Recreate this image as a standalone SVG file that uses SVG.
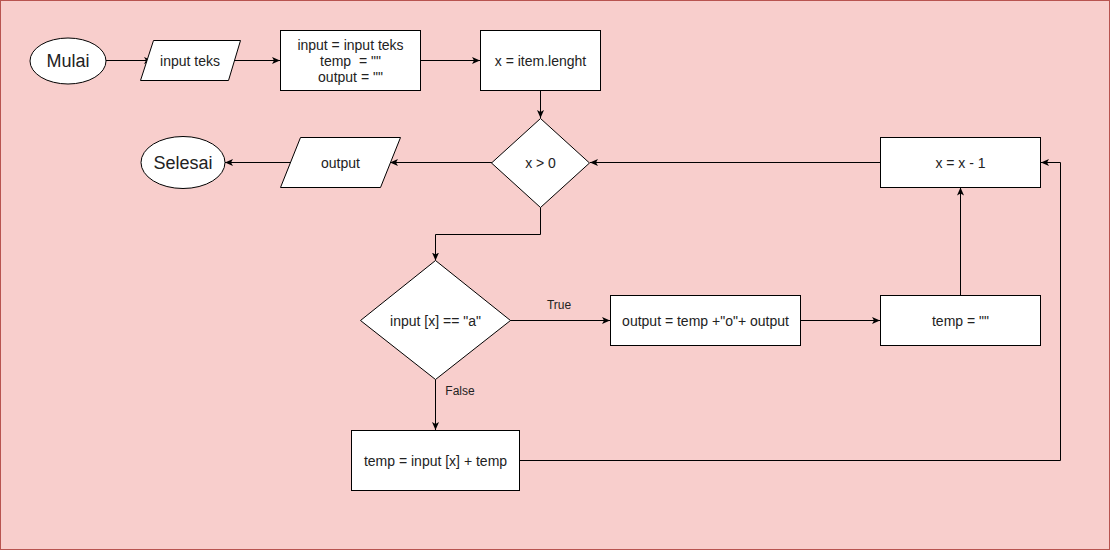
<svg xmlns="http://www.w3.org/2000/svg" width="1111" height="551" viewBox="0 0 1111 551">
<style>
.s{fill:#ffffff;stroke:#000000;stroke-width:1}
.t{font-family:"Liberation Sans",Arial,sans-serif;font-size:14px;fill:#222222;text-anchor:middle;white-space:pre}
.big{font-size:18px}
.lbl{font-family:"Liberation Sans",Arial,sans-serif;font-size:12px;fill:#222222;text-anchor:middle}
.c{fill:none;stroke:#000000;stroke-width:1}
</style>
<defs>
<marker id="a" markerUnits="userSpaceOnUse" markerWidth="10" markerHeight="10" refX="8" refY="4" orient="auto">
<path d="M0,0.5 L8,4 L0,7.5 L2,4 z" fill="#000000"/>
</marker>
</defs>
<rect x="0.5" y="0.5" width="1109" height="549" fill="#f8cecc" stroke="#b85450"/>
<g id="connectors">
<path class="c" d="M106,60.5 H152" marker-end="url(#a)"/>
<path class="c" d="M235,60.5 H280" marker-end="url(#a)"/>
<path class="c" d="M420,60.5 H480" marker-end="url(#a)"/>
<path class="c" d="M540.5,90.5 V118" marker-end="url(#a)"/>
<path class="c" d="M880,162.5 H590" marker-end="url(#a)"/>
<path class="c" d="M492,162.5 H390" marker-end="url(#a)"/>
<path class="c" d="M290,162.5 H225" marker-end="url(#a)"/>
<path class="c" d="M540.5,207.5 V234.5 H435.5 V260.5" marker-end="url(#a)"/>
<path class="c" d="M510,320.5 H610" marker-end="url(#a)"/>
<path class="c" d="M800,320.5 H880" marker-end="url(#a)"/>
<path class="c" d="M960.5,295.5 V187.5" marker-end="url(#a)"/>
<path class="c" d="M435.5,379.5 V430" marker-end="url(#a)"/>
<path class="c" d="M519,460.5 H1060.5 V162.5 H1041" marker-end="url(#a)"/>
<text class="lbl" x="559" y="309">True</text>
<text class="lbl" x="460" y="395">False</text>
</g>
<g id="mulai">
<ellipse class="s" cx="68" cy="61" rx="38" ry="23"/>
<text class="t big" x="68" y="67">Mulai</text>
</g>
<g id="input-teks">
<polygon class="s" points="153.5,40.5 240.5,40.5 228.5,80.5 140.5,80.5"/>
<text class="t" x="190" y="65.5">input teks</text>
</g>
<g id="init">
<rect class="s" x="280.5" y="30.5" width="140" height="60"/>
<text class="t" x="350.5" y="50">input = input teks</text>
<text class="t" x="350.5" y="66">temp  = ""</text>
<text class="t" x="350.5" y="82">output = ""</text>
</g>
<g id="len">
<rect class="s" x="480.5" y="30.5" width="120" height="60"/>
<text class="t" x="540.5" y="65.5">x = item.lenght</text>
</g>
<g id="cond-x">
<polygon class="s" points="540.5,118.5 589.5,163 540.5,207.5 491.5,163"/>
<text class="t" x="540.5" y="168">x &gt; 0</text>
</g>
<g id="output">
<polygon class="s" points="300.5,137.5 400.5,137.5 380.5,187.5 280.5,187.5"/>
<text class="t" x="340.5" y="167.5">output</text>
</g>
<g id="selesai">
<ellipse class="s" cx="183" cy="162.5" rx="42" ry="26"/>
<text class="t big" x="183" y="169">Selesai</text>
</g>
<g id="decrement">
<rect class="s" x="880.5" y="137.5" width="160" height="50"/>
<text class="t" x="960.5" y="167.5">x = x - 1</text>
</g>
<g id="cond-a">
<polygon class="s" points="435.5,260.5 510.5,320.5 435.5,379.5 360.5,320.5"/>
<text class="t" x="435.5" y="325.5">input [x] == "a"</text>
</g>
<g id="concat">
<rect class="s" x="610.5" y="295.5" width="190" height="50"/>
<text class="t" x="705.5" y="325.5">output = temp +"o"+ output</text>
</g>
<g id="reset">
<rect class="s" x="880.5" y="295.5" width="160" height="50"/>
<text class="t" x="960.5" y="325.5">temp = ""</text>
</g>
<g id="append">
<rect class="s" x="351.5" y="430.5" width="168" height="60"/>
<text class="t" x="435.5" y="465.5">temp = input [x] + temp</text>
</g>
</svg>
